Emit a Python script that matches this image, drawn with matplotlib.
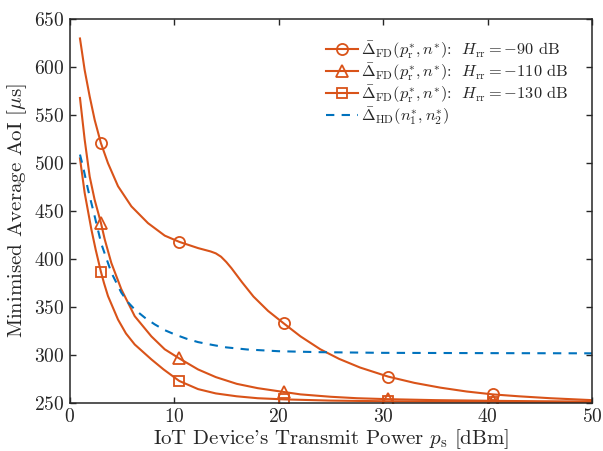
import numpy as np
import matplotlib
matplotlib.use('Agg')
import matplotlib.pyplot as plt

# --- Data ---
x_90 = [1.0, 1.45, 1.93, 2.41, 3.0, 3.68, 4.64, 5.92, 7.51, 9.11, 10.5, 12.3, 13.5,
        14.0, 14.5, 15.0, 15.5, 16.5, 17.6, 19.0, 20.5, 22.1, 24.0, 25.8, 27.8, 30.5,
        33.0, 35.5, 38.0, 40.5, 43.0, 46.0, 50.0]
y_90 = [630, 597, 569.5, 545, 521, 500, 476, 455, 437.5, 424.5, 418, 411.5, 408,
        406, 402.5, 397, 390.5, 376, 361, 346, 333, 319.5, 306, 296, 287, 277.5,
        271, 266, 262, 259, 257, 255, 253]

x_110 = [1.0, 1.45, 1.93, 2.4, 3.0, 3.37, 4.0, 4.96, 6.24, 7.83, 9.11, 10.5, 12.3,
         14.0, 16.0, 18.0, 20.5, 22.1, 25.0, 27.5, 30.5, 35.0, 40.5, 45.0, 50.0]
y_110 = [568, 524.5, 486, 462, 438, 420.5, 396, 368.5, 340.5, 319.5, 306, 296.5, 285,
         277, 270, 265.5, 261.5, 259, 256.5, 255, 254, 253, 252.3, 251.8, 251.5]

x_130 = [1.0, 1.45, 2.09, 2.5, 3.0, 3.3, 3.68, 4.64, 5.4, 6.24, 7.83, 9.0, 10.5,
         12.3, 14.0, 16.0, 18.0, 20.5, 25.0, 30.5, 35.0, 40.5, 45.0, 50.0]
y_130 = [505, 469, 431, 410, 387, 375, 361.5, 337, 322.5, 311, 295.5, 285, 273,
         264.5, 260, 257, 255, 253.8, 252.5, 251.8, 251.5, 251.3, 251.2, 251]

x_hd = [1.0, 1.3, 1.77, 2.41, 3.04, 4.0, 4.96, 5.6, 6.24, 7.2, 8.15, 9.1, 10.07,
        11.2, 12.3, 13.7, 15.0, 17.0, 20.0, 24.0, 30.0, 40.0, 50.0]
y_hd = [509, 496, 472.5, 444.5, 416, 386, 365, 355, 347.5, 339, 332, 326, 321.5,
        317, 313.5, 310.5, 308, 305.8, 304, 303, 302.3, 302, 301.8]

mark_x = [3.0, 10.5, 20.5, 30.5, 40.5]

labels = [r'$\bar{\Delta}_{\mathrm{FD}}(p_{\mathrm{r}}^{*},n^{*})$:  $H_{\mathrm{rr}}=-90$ dB',
          r'$\bar{\Delta}_{\mathrm{FD}}(p_{\mathrm{r}}^{*},n^{*})$:  $H_{\mathrm{rr}}=-110$ dB',
          r'$\bar{\Delta}_{\mathrm{FD}}(p_{\mathrm{r}}^{*},n^{*})$:  $H_{\mathrm{rr}}=-130$ dB',
          r'$\bar{\Delta}_{\mathrm{HD}}(n_1^{*},n_2^{*})$']

ORANGE = '#D95319'
BLUE = '#0072BD'
AXC = '#262626'

plt.rcParams['font.family'] = 'serif'
plt.rcParams['font.serif'] = ['cmr10']
plt.rcParams['mathtext.fontset'] = 'cm'
plt.rcParams['axes.unicode_minus'] = False
plt.rcParams['axes.formatter.use_mathtext'] = True

fig = plt.figure(figsize=(6.03, 4.51), dpi=100)
ax = fig.add_axes([0.1153, 0.1064, 0.8665, 0.8508])


def mark_idx(xs):
    return [i for i, v in enumerate(xs) if any(abs(v - m) < 1e-6 for m in mark_x)]


ax.plot(x_90, y_90, color=ORANGE, lw=1.5, marker='o', ms=8, mfc='none', mew=1.3,
        markevery=mark_idx(x_90), label=labels[0])
ax.plot(x_110, y_110, color=ORANGE, lw=1.5, marker='^', ms=8, mfc='none', mew=1.3,
        markevery=mark_idx(x_110), label=labels[1])
ax.plot(x_130, y_130, color=ORANGE, lw=1.5, marker='s', ms=7, mfc='none', mew=1.3,
        markevery=mark_idx(x_130), label=labels[2])
ax.plot(x_hd, y_hd, color=BLUE, lw=1.5, ls=(0, (4, 3.5)), label=labels[3])

ax.set_xlim(0, 50)
ax.set_ylim(250, 650)
ax.set_xticks(np.arange(0, 51, 10))
ax.set_yticks(np.arange(250, 651, 50))
ax.tick_params(direction='in', top=True, right=True, length=4, width=1.0,
               colors=AXC, labelsize=14, labelcolor=AXC)
for s in ax.spines.values():
    s.set_linewidth(1.1)
    s.set_color(AXC)

ax.set_xlabel(r"IoT Device's Transmit Power $p_{\mathrm{s}}$ [dBm]", fontsize=15,
              color=AXC, labelpad=1)
ax.set_ylabel(r'Minimised Average AoI [$\mu$s]', fontsize=15, color=AXC, labelpad=4)

leg = ax.legend(loc='upper right', bbox_to_anchor=(0.967, 0.965), frameon=False,
                fontsize=11.8, handlelength=1.95, handletextpad=0.15, labelspacing=0.0,
                borderaxespad=0.0)
for t in leg.get_texts():
    t.set_color(AXC)

fig.savefig('out.png', dpi=100)
